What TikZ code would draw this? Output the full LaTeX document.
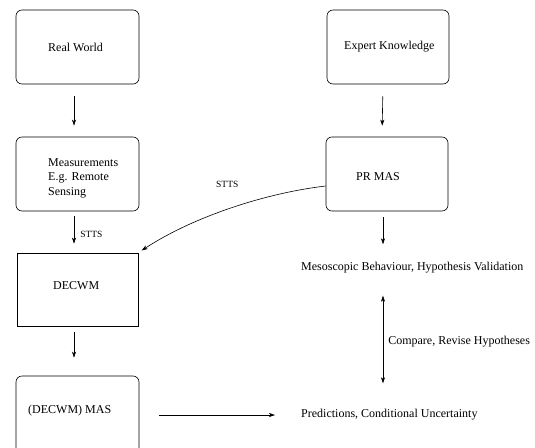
\documentclass[tikz,border=0pt]{standalone}
\usepackage{fontspec}
\setmainfont{Liberation Serif}
\usetikzlibrary{positioning,calc,arrows.meta}

\begin{document}
\begin{tikzpicture}[
    x=1pt, y=-1pt,
    roundbox/.style={draw, rounded corners=6pt, line width=0.6pt, minimum width=123pt, minimum height=74pt, inner sep=0pt},
    sqbox/.style={draw, line width=0.6pt, minimum width=121pt, minimum height=73pt, inner sep=0pt},
    txt/.style={inner sep=0pt, anchor=west, align=left, font=\fontsize{12}{14.5}\selectfont},
    small/.style={inner sep=0pt, anchor=west, font=\fontsize{9.5}{11}\selectfont},
    arrow/.style={-{Stealth[length=6pt,width=4pt,inset=1.5pt]}, line width=0.6pt},
    darrow/.style={{Stealth[length=6pt,width=4pt,inset=1.5pt]}-{Stealth[length=6pt,width=4pt,inset=1.5pt]}, line width=0.6pt}
]
\clip (0,0) rectangle (535,447);
% boxes
\node[roundbox] (rw) at (77.5,47) {};
\node[roundbox] (meas) at (77.5,174) {};
\node[sqbox] (dec) at (77.5,289.5) {};
\node[roundbox, minimum height=110pt] (mas) at (77.5,431) {};
\node[roundbox, minimum width=122pt] (exp) at (388,47) {};
\node[roundbox, minimum width=122pt] (pr) at (387,174) {};
% texts
\node[txt] (rwt) at (48,47) {Real World};
\node[txt] (meast) at (48,178) {Measurements\\E.g. Remote\\Sensing};
\node[txt] (dect) at (53,286) {DECWM};
\node[txt] (mast) at (28,411) {(DECWM) MAS};
\node[txt] (expt) at (344,47) {Expert Knowledge};
\node[txt] (prt) at (356,177) {PR MAS};
\node[txt] (meso) at (301,268) {Mesoscopic Behaviour, Hypothesis Validation};
\node[txt] (pred) at (301,415) {Predictions, Conditional Uncertainty};
% arrows
\draw[arrow, shorten <=12pt, shorten >=11pt] ([xshift=-3.5pt]rw.south) -- ([xshift=-3.5pt]meas.north);
\draw[arrow, shorten <=5pt, shorten >=9pt] ([xshift=-3.5pt]meas.south) -- ([xshift=-3.5pt]dec.north)
    node[small, pos=0.55, right=6pt] (sttsa) {STTS};
\draw[arrow, shorten <=6pt, shorten >=18pt] ([xshift=-3.5pt]dec.south) -- ([xshift=-3.5pt]mas.north);
\draw[arrow, shorten <=12pt, shorten >=11pt] ([xshift=-5pt]exp.south) -- ([xshift=-5pt]pr.north);
\draw[arrow, shorten <=6pt, shorten >=18pt] ([xshift=-4pt]pr.south) -- ([xshift=-4pt]pr.south |- meso.north);
\draw[darrow, shorten <=22pt, shorten >=26pt] ([xshift=-4pt]pr.south |- meso.south) -- ([xshift=-4pt]pr.south |- pred.north)
    node[txt, midway, right=5pt] (cmp) {Compare, Revise Hypotheses};
\draw[arrow, shorten <=20pt, shorten >=26pt] (mas.east |- pred.west) -- (pred.west);
\draw[arrow, shorten >=4pt] ([yshift=-12pt]pr.west) .. controls +(-60,7) and +(55,-36) .. (dec.north east);
\node[small] (sttsb) at (216,184) {STTS};
\end{tikzpicture}
\end{document}
